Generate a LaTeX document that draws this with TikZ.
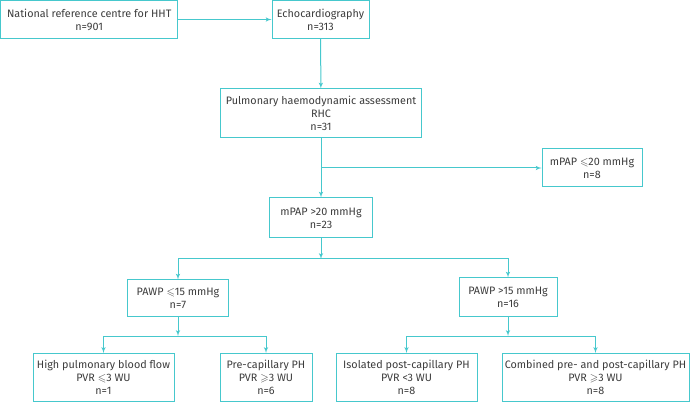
\documentclass[tikz,border=0pt]{standalone}
\usepackage{amssymb}
\usepackage{fontspec}
\setmainfont{Fira Sans}
\usetikzlibrary{arrows}
\definecolor{flowline}{RGB}{70,200,205}
\definecolor{flowtext}{RGB}{60,60,60}
\tikzset{box/.style = {draw=flowline, line width=1pt, align=center, text=flowtext,
                       font=\fontsize{10.8}{13}\selectfont, inner sep=0, minimum height=38}}
\tikzset{flow/.style = {draw=flowline, line width=1pt, -latex'}}

\begin{document}
\begin{tikzpicture}[x=1pt, y=-1pt]
      \useasboundingbox (0, 0) rectangle (693, 403);
      \node [box, minimum width=177, minimum height=37.5] (nrc) at (89.2, 19.5) {National reference centre for HHT\\n=901};
      \node [box, minimum width=97, minimum height=37.5] (echo) at (320.5, 19.5) {Echocardiography\\n=313};
      \node [box, minimum width=201, minimum height=49] (rhc) at (321, 113.5) {Pulmonary haemodynamic assessment\\RHC\\n=31};
      \node [box, minimum width=100] (low) at (592, 168) {mPAP $\leqslant$20 mmHg\\n=8};
      \node [box, minimum width=103, minimum height=40] (high) at (321, 218) {mPAP >20 mmHg\\n=23};
      \node [box, minimum width=101, minimum height=36] (pawplow) at (178, 298) {PAWP $\leqslant$15 mmHg\\n=7};
      \node [box, minimum width=98] (pawphigh) at (508, 297) {PAWP >15 mmHg\\n=16};
      \node [box, minimum width=141, minimum height=48] (flow) at (103.5, 377.5) {High pulmonary blood flow\\PVR $\leqslant$3 WU\\n=1};
      \node [box, minimum width=92, minimum height=48] (precap) at (266, 377.5) {Pre-capillary PH\\PVR $\geqslant$3 WU\\n=6};
      \node [box, minimum width=141, minimum height=48] (ipcph) at (406.5, 377.5) {Isolated post-capillary PH\\PVR <3 WU\\n=8};
      \node [box, minimum width=187, minimum height=48] (cpcph) at (595.5, 377.5) {Combined pre- and post-capillary PH\\PVR $\geqslant$3 WU\\n=8};

      \coordinate (split1) at (321, 259);
      \coordinate (split2) at (178, 336);
      \coordinate (split3) at (508, 336);

      \draw [flow] (nrc) -- (echo);
      \draw [flow] (echo) -- (rhc);
      \draw [flow] (rhc) -- (high);
      \draw [flow] (rhc.south |- low.west) -- (low);
      \draw [flow] (high) -- (split1);
      \draw [flow] (split1) -| (pawplow);
      \draw [flow] (split1) -| (pawphigh);
      \draw [flow] (pawplow) -- (split2);
      \draw [flow] (split2) -| (flow);
      \draw [flow] (split2) -| (precap);
      \draw [flow] (pawphigh) -- (split3);
      \draw [flow] (split3) -| (ipcph);
      \draw [flow] (split3) -| (cpcph);
    \end{tikzpicture}
\end{document}
